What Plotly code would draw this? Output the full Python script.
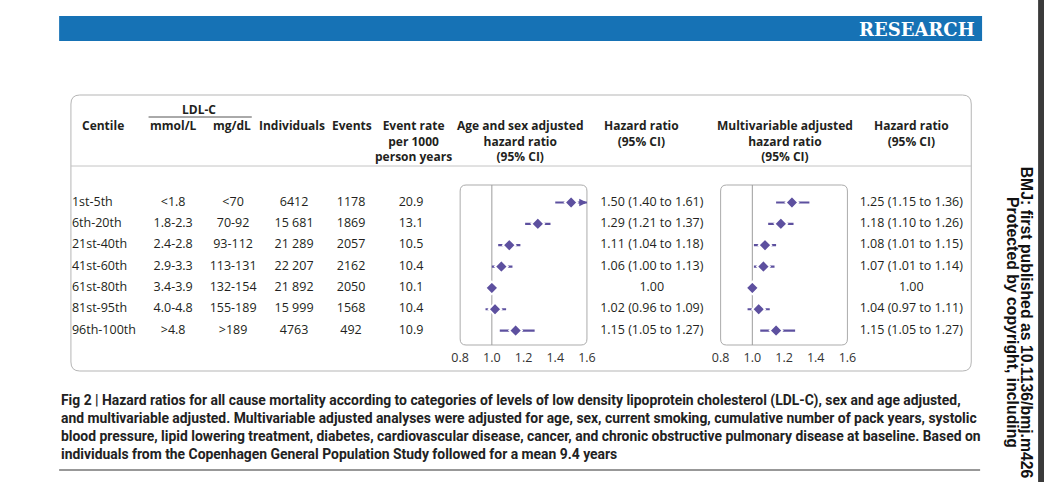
import plotly.graph_objects as go

# ---------------- data ----------------
centiles = ["1st-5th", "6th-20th", "21st-40th", "41st-60th", "61st-80th", "81st-95th", "96th-100th"]
ldl_mmol = ["<1.8", "1.8-2.3", "2.4-2.8", "2.9-3.3", "3.4-3.9", "4.0-4.8", ">4.8"]
ldl_mgdl = ["<70", "70-92", "93-112", "113-131", "132-154", "155-189", ">189"]
individuals = [6412, 15681, 21289, 22207, 21892, 15999, 4763]
events = [1178, 1869, 2057, 2162, 2050, 1568, 492]
event_rate = [20.9, 13.1, 10.5, 10.4, 10.1, 10.4, 10.9]

hr_age = [1.50, 1.29, 1.11, 1.06, 1.00, 1.02, 1.15]
lo_age = [1.40, 1.21, 1.04, 1.00, 1.00, 0.96, 1.05]
hi_age = [1.61, 1.37, 1.18, 1.13, 1.00, 1.09, 1.27]

hr_mv = [1.25, 1.18, 1.08, 1.07, 1.00, 1.04, 1.15]
lo_mv = [1.15, 1.10, 1.01, 1.01, 1.00, 0.97, 1.05]
hi_mv = [1.36, 1.26, 1.15, 1.14, 1.00, 1.11, 1.27]

axis_ticks = [0.8, 1.0, 1.2, 1.4, 1.6]
axis_ticktext = ["0.8", "1.0", "1.2", "1.4", "1.6"]

caption_lines = [
    "Fig 2 | Hazard ratios for all cause mortality according to categories of levels of low density lipoprotein cholesterol (LDL-C), sex and age adjusted,",
    "and multivariable adjusted. Multivariable adjusted analyses were adjusted for age, sex, current smoking, cumulative number of pack years, systolic",
    "blood pressure, lipid lowering treatment, diabetes, cardiovascular disease, cancer, and chronic obstructive pulmonary disease at baseline. Based on",
    "individuals from the Copenhagen General Population Study followed for a mean 9.4 years",
]
side_lines = [
    "BMJ: first published as 10.1136/bmj.m426",
    "Protected by copyright, including",
]

# ---------------- helpers ----------------
W, H = 1053, 482
PURPLE = "#5d509f"
TXT = "#231f20"
BODY = "Open Sans, Noto Sans, sans-serif"


def X(px):
    return px / W


def Y(py):
    return 1 - py / H


def fmt_n(n):
    return f"{n:,}".replace(",", " ") if n >= 10000 else str(n)


def fmt_hr(h, l, u):
    if l == h and u == h:
        return f"{h:.2f}"
    return f"{h:.2f} ({l:.2f} to {u:.2f})"


def rrect(x0, y0, x1, y1, r, color, width=1):
    rx, ry = r / W, r / H
    X0, X1, Yt, Yb = X(x0), X(x1), Y(y0), Y(y1)
    path = (f"M {X0+rx},{Yt} L {X1-rx},{Yt} Q {X1},{Yt} {X1},{Yt-ry} "
            f"L {X1},{Yb+ry} Q {X1},{Yb} {X1-rx},{Yb} L {X0+rx},{Yb} "
            f"Q {X0},{Yb} {X0},{Yb+ry} L {X0},{Yt-ry} Q {X0},{Yt} {X0+rx},{Yt} Z")
    return dict(type="path", path=path, xref="paper", yref="paper",
                line=dict(color=color, width=width), layer="below")


# layout geometry (pixels)
P1 = (459, 588)
P2 = (724, 853)
PANEL_TOP, PANEL_BOT = 185, 345
ROW0, ROWSTEP = 202.5, 21.35
XMIN, XMAX = 0.8, 1.6

fig = go.Figure()

# ---------------- table text columns ----------------
def text_col(xpx, values, pos="middle center", color=TXT):
    fig.add_trace(go.Scatter(
        x=[xpx] * len(values), y=centiles, mode="text", text=values,
        textposition=pos, textfont=dict(family=BODY, size=12.5, color=color),
        xaxis="x3", yaxis="y", cliponaxis=False, hoverinfo="skip", showlegend=False))


text_col(64, centiles, pos="middle right")
text_col(167, ldl_mmol)
text_col(228, ldl_mgdl)
text_col(290, [fmt_n(v) for v in individuals])
text_col(348, [str(v) for v in events])
text_col(409, [f"{v:.1f}" for v in event_rate])
text_col(654, [fmt_hr(h, l, u) for h, l, u in zip(hr_age, lo_age, hi_age)])
text_col(918, [fmt_hr(h, l, u) for h, l, u in zip(hr_mv, lo_mv, hi_mv)])

# ---------------- forest panels ----------------
def forest(hr, lo, hi, xa):
    plus = [min(u, XMAX) - h for h, u in zip(hr, hi)]
    minus = [h - max(l, XMIN) for h, l in zip(hr, lo)]
    fig.add_trace(go.Scatter(
        x=hr, y=centiles, mode="markers", xaxis=xa, yaxis="y",
        marker=dict(symbol="diamond", size=9.8, color=PURPLE,
                    line=dict(color="white", width=1.8)),
        error_x=dict(type="data", symmetric=False, array=plus, arrayminus=minus,
                     color=PURPLE, thickness=2.2, width=0),
        hoverinfo="skip", showlegend=False, cliponaxis=False))
    # arrows where CI exceeds axis
    for c, u in zip(centiles, hi):
        if u > XMAX:
            fig.add_annotation(x=XMAX, y=c, xref=xa, yref="y", ax=-8, ay=0,
                               text="", showarrow=True, arrowhead=2, arrowsize=0.7,
                               arrowwidth=2.2, arrowcolor=PURPLE, standoff=0)


forest(hr_age, lo_age, hi_age, "x")
forest(hr_mv, lo_mv, hi_mv, "x2")

axis_common = dict(range=[XMIN, XMAX], tickvals=axis_ticks, ticktext=axis_ticktext,
                   showgrid=False, zeroline=False, showline=False, ticks="",
                   tickfont=dict(family=BODY, size=12.5, color="#333333"),
                   anchor="y", fixedrange=True, ticklabelstandoff=3)

y_lo = (PANEL_BOT - ROW0) / ROWSTEP
y_hi = (PANEL_TOP - ROW0) / ROWSTEP

fig.update_layout(
    width=W, height=H, margin=dict(l=0, r=0, t=0, b=0),
    paper_bgcolor="white", plot_bgcolor="rgba(0,0,0,0)",
    xaxis=dict(domain=[X(P1[0]), X(P1[1])], **axis_common),
    xaxis2=dict(domain=[X(P2[0]), X(P2[1])], **axis_common),
    xaxis3=dict(domain=[0, 1], range=[0, W], visible=False, anchor="y", fixedrange=True),
    yaxis=dict(domain=[Y(PANEL_BOT), Y(PANEL_TOP)], type="category",
               categoryorder="array", categoryarray=centiles,
               range=[y_lo, y_hi], visible=False, fixedrange=True),
    showlegend=False,
)

shapes = []
# blue banner
shapes.append(dict(type="rect", xref="paper", yref="paper", x0=X(51), x1=X(990),
                   y0=Y(41), y1=Y(16), fillcolor="#1672b5", line=dict(width=0), layer="below"))
# dark strip at right edge
shapes.append(dict(type="rect", xref="paper", yref="paper", x0=X(1047), x1=X(1053),
                   y0=0, y1=1, fillcolor="#3a3a3a", line=dict(width=0), layer="above"))
# table box
shapes.append(rrect(63, 95, 979, 371, 9, "#b5b5b5", 1))
# header divider
shapes.append(dict(type="line", xref="paper", yref="paper", x0=X(63), x1=X(979),
                   y0=Y(166), y1=Y(166), line=dict(color="#c4c4c4", width=1), layer="below"))
# LDL-C underline
shapes.append(dict(type="line", xref="paper", yref="paper", x0=X(142), x1=X(247),
                   y0=Y(117), y1=Y(117), line=dict(color="#555555", width=1), layer="below"))
# forest panel borders
for p in (P1, P2):
    shapes.append(rrect(p[0], PANEL_TOP, p[1], PANEL_BOT, 6, "#ababab", 1))
# reference lines at HR = 1
for xa in ("x", "x2"):
    shapes.append(dict(type="line", xref=xa, yref="y domain", x0=1.0, x1=1.0, y0=0, y1=1,
                       line=dict(color="#9c9c9c", width=1), layer="below"))
# caption rule
shapes.append(dict(type="line", xref="paper", yref="paper", x0=X(51), x1=X(988),
                   y0=Y(470), y1=Y(470), line=dict(color="#333333", width=1.2)))
fig.update_layout(shapes=shapes)


def label(xpx, ypx, s, size=12, bold=True, anchor="center", color=TXT, family=BODY, **kw):
    fig.add_annotation(x=X(xpx), y=Y(ypx), xref="paper", yref="paper", text=s,
                       showarrow=False, xanchor=anchor, yanchor="middle",
                       font=dict(family=family, size=size, color=color,
                                 weight="bold" if bold else "normal"), **kw)


# banner text
label(985, 29, "RESEARCH", size=18, anchor="right", color="white", family="DejaVu Serif")

# header (single-line items, first line at y=126; multi-line blocks centred)
label(72, 126, "Centile", anchor="left")
label(193, 110, "LDL-C")
label(167, 126, "mmol/L")
label(227, 126, "mg/dL")
label(288, 126, "Individuals")
label(349, 126, "Events")
label(412, 141, "Event rate<br>per 1000<br>person years")
label(520, 141, "Age and sex adjusted<br>hazard ratio<br>(95% CI)")
label(643, 133.5, "Hazard ratio<br>(95% CI)")
label(790, 141, "Multivariable adjusted<br>hazard ratio<br>(95% CI)")
label(918, 133.5, "Hazard ratio<br>(95% CI)")

# caption
CAP = "Roboto, sans-serif"
for i, s in enumerate(caption_lines):
    label(51, 400 + 18 * i, s, size=13.9, anchor="left", color="#222222", family=CAP)

# side text (rotated; first line lies to the right of the second)
for xpx, ytop, s in zip([1036, 1021], [165, 195], side_lines):
    fig.add_annotation(x=X(xpx), y=Y(ytop), xref="paper", yref="paper", text=s,
                       showarrow=False, textangle=90, xanchor="center", yanchor="top",
                       font=dict(family="Liberation Sans, Arial, sans-serif", size=15.8,
                                 color="#111111", weight="bold"))

fig.write_html(
    "out.html",
    config={"displayModeBar": False},
    post_script=("document.documentElement.style.margin='0';"
                 "document.documentElement.style.overflow='hidden';"
                 "document.body.style.margin='0';"
                 "document.body.style.overflow='hidden';"),
)
